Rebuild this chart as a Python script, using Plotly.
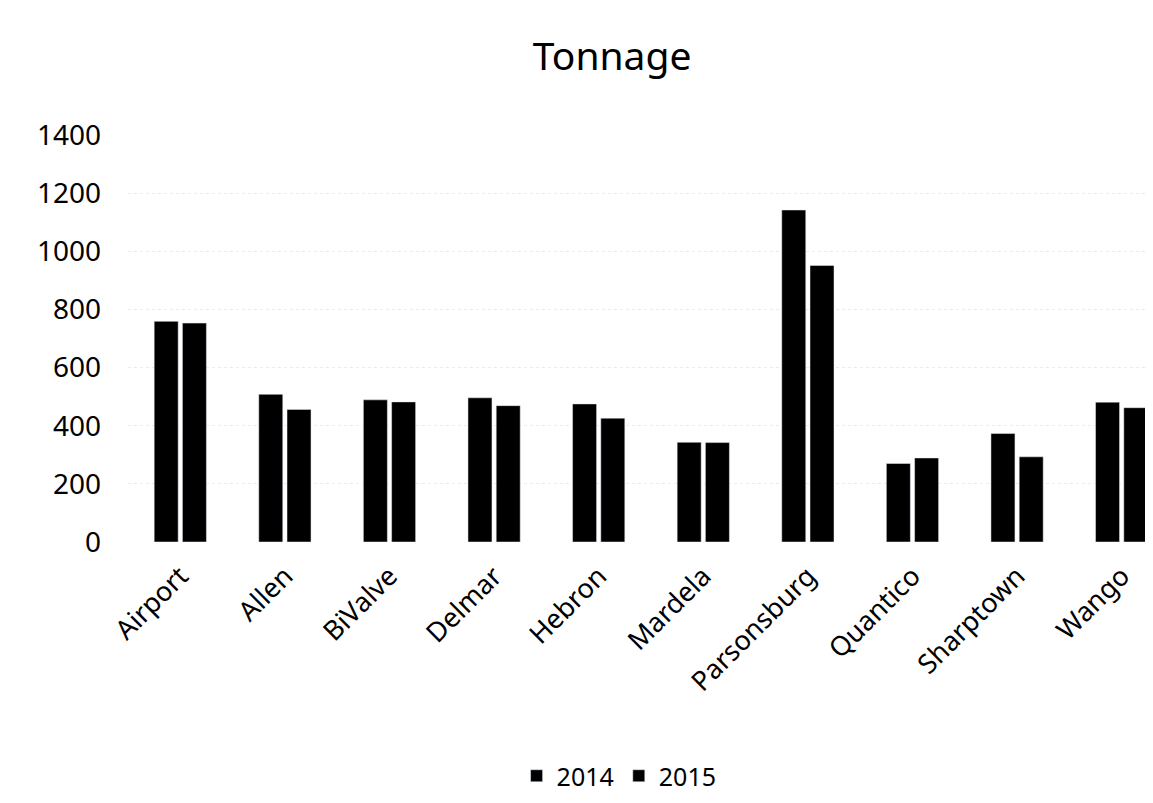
import plotly.graph_objects as go

# Tonnage per site
sites = ["Airport", "Allen", "BiValve", "Delmar", "Hebron",
         "Mardela", "Parsonsburg", "Quantico", "Sharptown", "Wango"]
tons_2014 = [759, 508, 489, 496, 475, 343, 1142, 270, 373, 481]
tons_2015 = [753, 456, 482, 469, 426, 342, 951, 289, 293, 462]
y_ticks = [0, 200, 400, 600, 800, 1000, 1200, 1400]

FONT = "Noto Sans, Open Sans, sans-serif"

fig = go.Figure()
fig.add_trace(go.Bar(name="2014", x=sites, y=tons_2014, marker_color="#000000"))
fig.add_trace(go.Bar(name="2015", x=sites, y=tons_2015, marker_color="#000000"))

fig.update_layout(
    width=1153,
    height=803,
    barmode="group",
    bargap=0.46,
    bargroupgap=0.15,
    paper_bgcolor="white",
    plot_bgcolor="white",
    # page body adds an 8px offset, so the plot box is pulled up/left a bit
    margin=dict(l=120, r=0, t=127, b=269),
    font=dict(family=FONT, color="#000000"),
    title=dict(
        text="Tonnage",
        font=dict(family=FONT, size=39, color="#000000"),
        xref="container", x=0.524, xanchor="center",
        yref="container", y=1 - 48 / 803, yanchor="middle",
    ),
    xaxis=dict(
        range=[-0.5, 9.376],
        tickangle=-45,
        tickfont=dict(family=FONT, size=27, color="#000000"),
        ticklabelstandoff=12,
        automargin=False,
        showgrid=False,
        showline=False,
        zeroline=False,
    ),
    yaxis=dict(
        range=[0, 1400],
        tickvals=y_ticks,
        tickfont=dict(family=FONT, size=28, color="#000000"),
        ticklabelstandoff=26,
        automargin=False,
        showgrid=True,
        gridcolor="#ebebeb",
        griddash="dot",
        gridwidth=1,
        zeroline=False,
        showline=False,
    ),
    legend=dict(
        orientation="h",
        xref="container", x=0.53, xanchor="center",
        yref="container", y=1 - 768 / 803, yanchor="middle",
        font=dict(family=FONT, size=25, color="#000000"),
        itemwidth=30,
    ),
)

fig.write_html("out.html")
